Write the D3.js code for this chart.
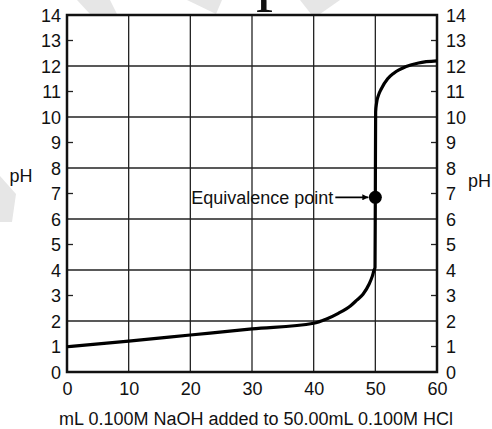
<!DOCTYPE html>
<html>
<head>
<meta charset="utf-8">
<script src="https://cdn.jsdelivr.net/npm/d3@7"></script>
<style>
    body { margin: 0; background: #fff; }
    text { font-family: "Liberation Sans", Arial, sans-serif; fill: #111; }
</style>
</head>
<body>
<div id="chart"></div>
<script>
// 1: DATA
const volumeML = [0, 10, 20, 30, 40, 42, 44, 46, 47, 48, 49, 49.5, 49.8, 49.95, 50, 50.05, 50.2, 50.5, 51, 52, 53, 55, 57, 60];
const phValues = [0.99, 1.21, 1.45, 1.69, 1.91, 2.07, 2.3, 2.6, 2.82, 3.05, 3.45, 3.75, 4.0, 4.1, 7.0, 10.2, 10.55, 10.85, 11.12, 11.5, 11.72, 11.98, 12.12, 12.2];
const xTicks = [0, 10, 20, 30, 40, 50, 60];
const yTicks = d3.range(0, 15);           // 0..14 labelled on both sides
const yGrid = [2, 4, 6, 8, 10, 12];
const equivalence = { volume: 50, ph: 6.85, label: "Equivalence point" };
const xTitle = "mL 0.100M NaOH added to 50.00mL 0.100M HCl";

// 2: SIZES
const W = 492, H = 429;
const margin = { top: 15, right: 55, bottom: 57, left: 67 };
const width = W - margin.left - margin.right;
const height = H - margin.top - margin.bottom;

const svgRoot = d3.select("#chart")
    .append("svg")
    .attr("width", W)
    .attr("height", H);

svgRoot.append("rect").attr("width", W).attr("height", H).attr("fill", "#fff");

// faint watermark pieces peeking out round the plot
const watermark = [
    [[77, 0], [110, 0], [117, 14], [90, 14]],
    [[187, 0], [222, 0], [216, 14]],
    [[300, 0], [340, 0], [320, 14], [311, 14]],
    [[0, 176], [16, 194], [12, 222], [0, 222]]
];
svgRoot.selectAll(".wm")
    .data(watermark)
    .enter().append("polygon")
    .attr("points", d => d.map(p => p.join(",")).join(" "))
    .attr("fill", "#e6e6e6");

// cut-off title glyph at the very top
svgRoot.append("text")
    .attr("x", 273)
    .attr("y", -2)
    .attr("text-anchor", "middle")
    .style("font-family", "'Liberation Serif', 'Times New Roman', serif")
    .style("font-size", "68px")
    .text("p");

const svg = svgRoot.append("g")
    .attr("transform", `translate(${margin.left},${margin.top})`);

// 3: SCALES
const x = d3.scaleLinear().domain([0, 60]).range([0, width]);
const y = d3.scaleLinear().domain([0, 14]).range([height, 0]);

svg.append("rect").attr("width", width).attr("height", height).attr("fill", "#fff");

// 4: GRID
svg.selectAll(".vgrid")
    .data(xTicks.slice(1, -1))
    .enter().append("line")
    .attr("x1", d => x(d)).attr("x2", d => x(d))
    .attr("y1", 0).attr("y2", height)
    .attr("stroke", "#222").attr("stroke-width", 1.3);

svg.selectAll(".hgrid")
    .data(yGrid)
    .enter().append("line")
    .attr("x1", 0).attr("x2", width)
    .attr("y1", d => y(d)).attr("y2", d => y(d))
    .attr("stroke", "#222").attr("stroke-width", 1.3);

// 5: AXES
const oddTicks = yTicks.filter(d => d % 2 === 1);

const leftAxis = svg.append("g")
    .call(d3.axisLeft(y).tickValues(yTicks).tickSize(0).tickPadding(6));
leftAxis.select(".domain").remove();
leftAxis.selectAll("text").style("font-size", "18px").attr("dy", "0.36em");

const rightAxis = svg.append("g")
    .attr("transform", `translate(${width},0)`)
    .call(d3.axisRight(y).tickValues(yTicks).tickSize(0).tickPadding(9));
rightAxis.select(".domain").remove();
rightAxis.selectAll("text").style("font-size", "18px").attr("dy", "0.36em");

const bottomAxis = svg.append("g")
    .attr("transform", `translate(0,${height})`)
    .call(d3.axisBottom(x).tickValues(xTicks).tickSize(0).tickPadding(10));
bottomAxis.select(".domain").remove();
bottomAxis.selectAll("text").style("font-size", "18px");

// small inward ticks at odd pH values
svg.selectAll(".ltick")
    .data(oddTicks)
    .enter().append("line")
    .attr("x1", 0).attr("x2", 6)
    .attr("y1", d => y(d)).attr("y2", d => y(d))
    .attr("stroke", "#222").attr("stroke-width", 1.3);
svg.selectAll(".rtick")
    .data(oddTicks)
    .enter().append("line")
    .attr("x1", width - 6).attr("x2", width)
    .attr("y1", d => y(d)).attr("y2", d => y(d))
    .attr("stroke", "#222").attr("stroke-width", 1.3);

// frame
svg.append("rect")
    .attr("width", width).attr("height", height)
    .attr("fill", "none").attr("stroke", "#111").attr("stroke-width", 2.5);

// 6: CURVE
const points = volumeML.map((v, i) => ({ v, ph: phValues[i] }));
const line = d3.line()
    .x(d => x(d.v))
    .y(d => y(d.ph))
    .curve(d3.curveMonotoneX);

svg.append("path")
    .datum(points)
    .attr("d", line)
    .attr("fill", "none")
    .attr("stroke", "#000")
    .attr("stroke-width", 3.2);

// 7: EQUIVALENCE POINT
svg.append("defs").append("marker")
    .attr("id", "arrow")
    .attr("viewBox", "0 0 10 10")
    .attr("refX", 10).attr("refY", 5)
    .attr("markerWidth", 8).attr("markerHeight", 6)
    .attr("markerUnits", "userSpaceOnUse")
    .attr("orient", "auto")
    .append("path").attr("d", "M0,0L10,5L0,10Z").attr("fill", "#000");

svg.append("circle")
    .attr("cx", x(equivalence.volume))
    .attr("cy", y(equivalence.ph))
    .attr("r", 6.5)
    .attr("fill", "#000");

svg.append("line")
    .attr("x1", x(equivalence.volume) - 40)
    .attr("x2", x(equivalence.volume) - 7)
    .attr("y1", y(equivalence.ph)).attr("y2", y(equivalence.ph))
    .attr("stroke", "#000").attr("stroke-width", 1.8)
    .attr("marker-end", "url(#arrow)");

svg.append("text")
    .attr("x", x(equivalence.volume) - 42)
    .attr("y", y(equivalence.ph))
    .attr("dy", "0.36em")
    .attr("text-anchor", "end")
    .style("font-size", "18px")
    .text(equivalence.label);

// 8: LABELS
svg.append("text")
    .attr("x", width / 2 + 4)
    .attr("y", height + 53)
    .attr("text-anchor", "middle")
    .style("font-size", "18px")
    .text(xTitle);

svg.append("text")
    .attr("x", -46)
    .attr("y", y(7.7))
    .attr("dy", "0.36em")
    .attr("text-anchor", "middle")
    .style("font-size", "18px")
    .text("pH");

svg.append("text")
    .attr("x", width + 54)
    .attr("y", y(7.5))
    .attr("dy", "0.36em")
    .attr("text-anchor", "end")
    .style("font-size", "18px")
    .text("pH");
</script>
</body>
</html>
